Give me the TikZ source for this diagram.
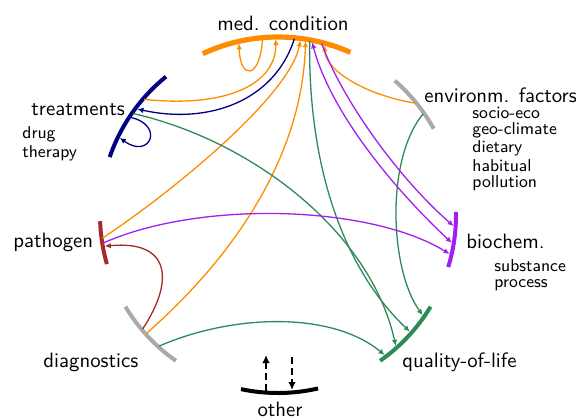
\documentclass[tikz,border=0pt]{standalone}
\usetikzlibrary{arrows.meta}
\definecolor{cOrange}{RGB}{255,140,0}
\definecolor{cNavy}{RGB}{0,0,128}
\definecolor{cGreen}{RGB}{46,139,87}
\definecolor{cPurple}{RGB}{160,32,240}
\definecolor{cBrown}{RGB}{165,42,42}
\definecolor{cGray}{RGB}{169,169,169}
\begin{document}
\begin{tikzpicture}[x=0.5pt,y=-0.5pt,
  conn/.style={line width=0.65pt},
  tip/.style={-{Latex[length=3pt,width=2.8pt]}},
  bothtips/.style={{Latex[length=3pt,width=2.8pt]}-{Latex[length=3pt,width=2.8pt]}},
  band/.style={line width=2pt,line cap=butt},
  lbl/.style={font=\fontsize{10.4}{12}\selectfont\sffamily,inner sep=0pt,anchor=base west},
  sublbl/.style={font=\fontsize{8.6}{10}\selectfont\sffamily,inner sep=0pt,anchor=base west},
  dasharrow/.style={line width=1pt,dash pattern=on 3.5pt off 2pt,-{Latex[length=4pt,width=3.8pt]}}]
\useasboundingbox (0,0) rectangle (576,419);
\coordinate (c) at (278,215);
% ---- arcs (segments) ----
\draw[band,cOrange,line width=2.6pt] (c) ++(-66:178) arc[start angle=-66,end angle=-115,radius=178];
\draw[band,cNavy] (c) ++(-129:178) arc[start angle=-129,end angle=-161,radius=178];
\draw[band,cGray] (c) ++(-29:178) arc[start angle=-29,end angle=-49,radius=178];
\draw[band,cPurple] (c) ++(17:178) arc[start angle=17,end angle=-1,radius=178];
\draw[band,cGreen] (c) ++(55:178) arc[start angle=55,end angle=31,radius=178];
\draw[band,black] (c) ++(102:178) arc[start angle=102,end angle=77,radius=178];
\draw[band,cGray] (c) ++(-211:178) arc[start angle=-211,end angle=-235,radius=178];
\draw[band,cBrown] (c) ++(-182:178) arc[start angle=-182,end angle=-196,radius=178];
% ---- connector end points ----
\path (c) ++(-95:177) coordinate (mLA);
\path (c) ++(-102.8:176) coordinate (mLB);
\path (c) ++(-90.7:176) coordinate (mT);
\path (c) ++(-84.7:177) coordinate (mN);
\path (c) ++(-82.7:176) coordinate (mP);
\path (c) ++(-81:176) coordinate (mD);
\path (c) ++(-79.7:177) coordinate (mG);
\path (c) ++(-78.8:176) coordinate (mU1);
\path (c) ++(-75.7:177) coordinate (mU2);
\path (c) ++(-74.6:176) coordinate (mE);
\path (c) ++(-139.2:177) coordinate (tO);
\path (c) ++(-143:176) coordinate (tN);
\path (c) ++(-145:177) coordinate (tG);
\path (c) ++(-146.5:177) coordinate (tLA);
\path (c) ++(-154:176) coordinate (tLB);
\path (c) ++(-39.2:177) coordinate (eO);
\path (c) ++(-34.9:177) coordinate (eG);
\path (c) ++(3.6:176) coordinate (bU2);
\path (c) ++(9.1:176) coordinate (bU1);
\path (c) ++(12.8:176) coordinate (bP);
\path (c) ++(34.7:176) coordinate (qE);
\path (c) ++(41.5:176) coordinate (qM);
\path (c) ++(48:176) coordinate (qT);
\path (c) ++(52.7:176) coordinate (qD);
\path (c) ++(-187.5:177) coordinate (pO);
\path (c) ++(-189.1:177) coordinate (pU);
\path (c) ++(-190.2:176) coordinate (pB);
\path (c) ++(-220.1:177) coordinate (dB);
\path (c) ++(-222:177) coordinate (dO);
\path (c) ++(-227.8:177) coordinate (dG);
\coordinate (oUs) at (266,391);
\coordinate (oUt) at (266,355);
\coordinate (oDs) at (292,357);
\coordinate (oDt) at (292,390);
% ---- orange ----
\draw[conn,cOrange,tip] (mLA) .. controls (260,80) and (240,80) .. (mLB);
\draw[conn,cOrange,tip] (tO) .. controls (225,108) and (276,85) .. (mT);
\draw[conn,cOrange,tip] (pO) .. controls (175,190) and (290,95) .. (mP);
\draw[conn,cOrange,tip] (dO) .. controls (230,260) and (302,160) .. (mD);
\draw[conn,cOrange,tip] (eO) .. controls (365,95) and (325,70) .. (mE);
% ---- navy ----
\draw[conn,cNavy,tip] (mN) .. controls (275,100) and (210,125) .. (tN);
\draw[conn,cNavy,tip] (tLA) .. controls (165,125) and (150,160) .. (tLB);
% ---- green ----
\draw[conn,cGreen,tip] (tG) .. controls (250,140) and (370,230) .. (qT);
\draw[conn,cGreen,tip] (mG) .. controls (308,170) and (345,270) .. (qM);
\draw[conn,cGreen,tip] (eG) .. controls (385,160) and (390,270) .. (qE);
\draw[conn,cGreen,tip] (dG) .. controls (230,315) and (330,310) .. (qD);
% ---- purple ----
\draw[conn,cPurple,bothtips] (mU1) .. controls (330,110) and (390,185) .. (bU1);
\draw[conn,cPurple,tip] (mU2) .. controls (340,95) and (395,175) .. (bU2);
\draw[conn,cPurple,tip] (pU) .. controls (200,200) and (370,205) .. (bP);
% ---- brown ----
\draw[conn,cBrown,tip] (dB) .. controls (175,280) and (170,240) .. (pB);
% ---- other ----
\draw[dasharrow] (oUs) -- (oUt);
\draw[dasharrow] (oDs) -- (oDt);
% ---- labels ----
\node[lbl] (Lmed) at (217,30) {med. condition};
\node[lbl] (Ltreat) at (31,115) {treatments};
\node[sublbl] (Ldrug) at (22,138) {drug};
\node[sublbl] (Ltherapy) at (22,157) {therapy};
\node[lbl] (Lenv) at (424,102) {environm. factors};
\node[sublbl] (Lsocio) at (472,118) {socio-eco};
\node[sublbl] (Lgeo) at (472,134) {geo-climate};
\node[sublbl] (Ldiet) at (472,152) {dietary};
\node[sublbl] (Lhab) at (472,171) {habitual};
\node[sublbl] (Lpoll) at (472,187) {pollution};
\node[sublbl] (Lsub) at (494,271) {substance};
\node[sublbl] (Lproc) at (494,287) {process};
\node[lbl] (Lbio) at (466,248) {biochem.};
\node[lbl] (Lqol) at (402,367) {quality-of-life};
\node[lbl] (Lpath) at (13,247) {pathogen};
\node[lbl] (Ldiag) at (43,367) {diagnostics};
\node[lbl,anchor=base] (Lother) at (280,416) {other};
\end{tikzpicture}
\end{document}
